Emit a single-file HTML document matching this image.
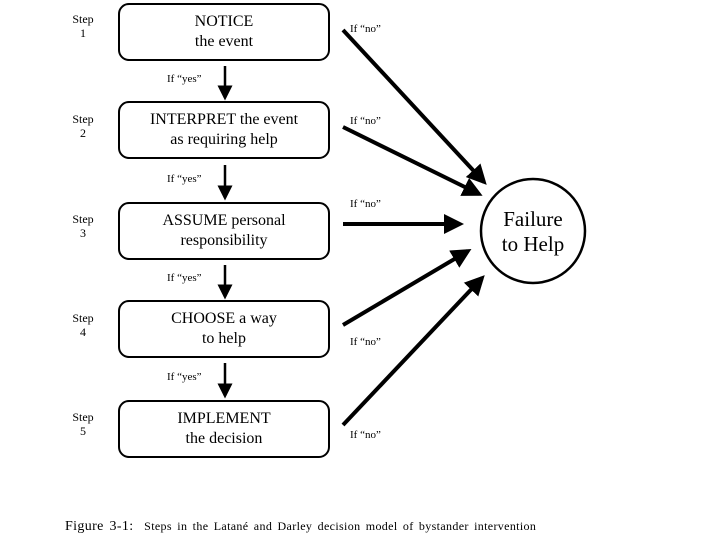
<!DOCTYPE html>
<html><head><style>
body{margin:0;width:720px;height:540px;background:#fff;font-family:"Liberation Serif",serif;position:relative;overflow:hidden}
.box{position:absolute;left:118px;width:208px;height:54px;border:2px solid #000;border-radius:11px;text-align:center;font-size:16px;line-height:20px;display:flex;align-items:center;justify-content:center}
.step{position:absolute;left:68px;font-size:12px;line-height:14px;text-align:center;width:30px}
.t{position:absolute;font-size:11px}
</style></head><body>
<svg width="720" height="540" style="position:absolute;left:0;top:0">
<defs><marker id="a" markerWidth="6" markerHeight="6" refX="5" refY="3" orient="auto" markerUnits="strokeWidth"><path d="M0,0 L6,3 L0,6 z"/></marker>
<marker id="b" markerWidth="5" markerHeight="5" refX="4" refY="2.5" orient="auto" markerUnits="strokeWidth"><path d="M0,0 L5,2.5 L0,5 z"/></marker></defs>
<g stroke="#000" stroke-width="4" marker-end="url(#b)">
<line x1="343" y1="30" x2="484" y2="182"/>
<line x1="343" y1="127" x2="479" y2="194"/>
<line x1="343" y1="224" x2="460" y2="224"/>
<line x1="343" y1="325" x2="468" y2="251"/>
<line x1="343" y1="425" x2="482" y2="278"/>
</g>
<g stroke="#000" stroke-width="2.5" marker-end="url(#a)">
<line x1="225" y1="66" x2="225" y2="98"/>
<line x1="225" y1="165" x2="225" y2="198"/>
<line x1="225" y1="265" x2="225" y2="297"/>
<line x1="225" y1="363" x2="225" y2="396"/>
</g>
<circle cx="533" cy="231" r="52" fill="none" stroke="#000" stroke-width="2.5"/>
</svg>
<div class="box" style="top:3px">NOTICE<br>the event</div>
<div class="box" style="top:101px">INTERPRET the event<br>as requiring help</div>
<div class="box" style="top:202px">ASSUME personal<br>responsibility</div>
<div class="box" style="top:300px">CHOOSE a way<br>to help</div>
<div class="box" style="top:400px">IMPLEMENT<br>the decision</div>
<div class="step" style="top:12px">Step<br>1</div>
<div class="step" style="top:112px">Step<br>2</div>
<div class="step" style="top:212px">Step<br>3</div>
<div class="step" style="top:311px">Step<br>4</div>
<div class="step" style="top:410px">Step<br>5</div>
<div class="t" style="left:167px;top:73px">If “yes”</div>
<div class="t" style="left:167px;top:173px">If “yes”</div>
<div class="t" style="left:167px;top:272px">If “yes”</div>
<div class="t" style="left:167px;top:371px">If “yes”</div>
<div class="t" style="left:350px;top:23px">If “no”</div>
<div class="t" style="left:350px;top:115px">If “no”</div>
<div class="t" style="left:350px;top:198px">If “no”</div>
<div class="t" style="left:350px;top:336px">If “no”</div>
<div class="t" style="left:350px;top:429px">If “no”</div>
<div style="position:absolute;left:481px;top:207px;width:104px;text-align:center;font-size:21px;line-height:25px">Failure<br>to Help</div>
<div style="position:absolute;left:65px;top:519px;font-size:12px;white-space:nowrap;letter-spacing:0.35px;word-spacing:2px"><span style="font-size:14px">Figure 3-1:</span>&nbsp; Steps in the Latané and Darley decision model of bystander intervention</div>
</body></html>
